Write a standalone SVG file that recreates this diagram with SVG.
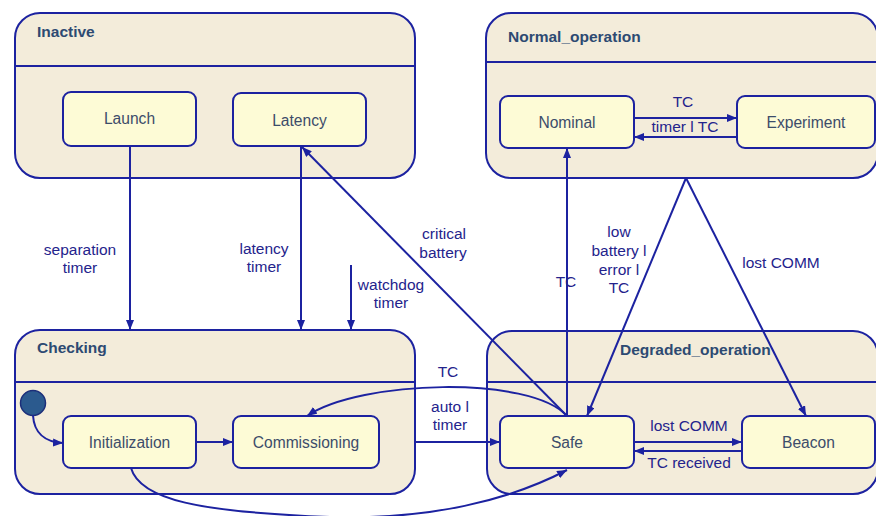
<svg xmlns="http://www.w3.org/2000/svg" width="876" height="516" viewBox="0 0 876 516">
  <defs>
    <marker id="arrow" viewBox="0 0 10 8" refX="10" refY="4" markerWidth="10" markerHeight="8" markerUnits="userSpaceOnUse" orient="auto">
      <path d="M0,0 L10,4 L0,8 z" fill="#1c22a0"/>
    </marker>
  </defs>
  <style>
    .composite { fill: #f3ecda; stroke: #1c22a0; stroke-width: 2; }
    .divider { stroke: #1c22a0; stroke-width: 2; }
    .state { fill: #fdfbd6; stroke: #1c22a0; stroke-width: 2; }
    .title { font-family: "Liberation Sans", Arial, sans-serif; font-size: 15.5px; font-weight: bold; fill: #2d4a72; }
    .name { font-family: "Liberation Sans", Arial, sans-serif; font-size: 15.6px; fill: #3c4c6a; text-anchor: middle; }
    .edge { fill: none; stroke: #1c22a0; stroke-width: 2; marker-end: url(#arrow); }
    .label { font-family: "Liberation Sans", Arial, sans-serif; font-size: 15.5px; fill: #24238c; text-anchor: middle; }
  </style>
  <rect width="876" height="516" fill="#ffffff"/>

  <!-- composite states -->
  <g id="inactive">
    <rect class="composite" x="15" y="13" width="400" height="165" rx="25"/>
    <line class="divider" x1="15" y1="66" x2="415" y2="66"/>
    <text class="title" x="37" y="37">Inactive</text>
  </g>
  <g id="normal_operation">
    <rect class="composite" x="486" y="13" width="392" height="165" rx="25"/>
    <line class="divider" x1="486" y1="62" x2="878" y2="62"/>
    <text class="title" x="508" y="42">Normal_operation</text>
  </g>
  <g id="checking">
    <rect class="composite" x="15" y="330" width="400" height="164" rx="25"/>
    <line class="divider" x1="15" y1="382" x2="415" y2="382"/>
    <text class="title" x="37" y="353">Checking</text>
  </g>
  <g id="degraded_operation">
    <rect class="composite" x="487" y="331" width="391" height="163" rx="25"/>
    <line class="divider" x1="487" y1="382" x2="878" y2="382"/>
    <text class="title" x="620" y="355">Degraded_operation</text>
  </g>

  <!-- simple states -->
  <g id="launch">
    <rect class="state" x="63" y="92" width="133" height="54" rx="8"/>
    <text class="name" x="129.5" y="124">Launch</text>
  </g>
  <g id="latency">
    <rect class="state" x="233" y="93" width="133" height="53" rx="8"/>
    <text class="name" x="299.5" y="126">Latency</text>
  </g>
  <g id="nominal">
    <rect class="state" x="500" y="96" width="134" height="52" rx="8"/>
    <text class="name" x="567" y="128">Nominal</text>
  </g>
  <g id="experiment">
    <rect class="state" x="737" y="96" width="138" height="52" rx="8"/>
    <text class="name" x="806" y="128">Experiment</text>
  </g>
  <g id="initial">
    <circle cx="33" cy="403" r="12.5" fill="#2b5a8e" stroke="#1c2f7a" stroke-width="1.5"/>
  </g>
  <g id="initialization">
    <rect class="state" x="63" y="416" width="133" height="52" rx="8"/>
    <text class="name" x="129.5" y="448">Initialization</text>
  </g>
  <g id="commissioning">
    <rect class="state" x="233" y="416" width="146" height="52" rx="8"/>
    <text class="name" x="306" y="448">Commissioning</text>
  </g>
  <g id="safe">
    <rect class="state" x="500" y="416" width="134" height="52" rx="8"/>
    <text class="name" x="567" y="448">Safe</text>
  </g>
  <g id="beacon">
    <rect class="state" x="742" y="416" width="133" height="52" rx="8"/>
    <text class="name" x="808.5" y="448">Beacon</text>
  </g>

  <!-- transitions -->
  <g id="connectors">
    <path class="edge" d="M130,146 V330"/>
    <path class="edge" d="M301,146 V330"/>
    <path class="edge" d="M351,265 V330"/>
    <path class="edge" d="M567,416 L302,147"/>
    <path class="edge" d="M567,416 V148"/>
    <path class="edge" d="M686,178 L587,416"/>
    <path class="edge" d="M686,178 L806,416"/>
    <path class="edge" d="M634,118 H737"/>
    <path class="edge" d="M737,137 H634"/>
    <path class="edge" d="M567,416 C530,375 360,380 307,416"/>
    <path class="edge" d="M415,442 H500"/>
    <path class="edge" d="M196,442 H233"/>
    <path class="edge" d="M33,415.5 C34,432 44,442 63,443"/>
    <path class="edge" d="M131,468 C140,500 200,512 330,517 C430,520 510,500 567,470"/>
    <path class="edge" d="M634,442 H742"/>
    <path class="edge" d="M742,451 H634"/>

    <text class="label" x="80" y="255">separation</text>
    <text class="label" x="80" y="273">timer</text>
    <text class="label" x="264" y="254">latency</text>
    <text class="label" x="264" y="272">timer</text>
    <text class="label" x="391" y="290">watchdog</text>
    <text class="label" x="391" y="308">timer</text>
    <text class="label" x="444" y="239">critical</text>
    <text class="label" x="443" y="258">battery</text>
    <text class="label" x="566" y="287">TC</text>
    <text class="label" x="619" y="237">low</text>
    <text class="label" x="619" y="256">battery l</text>
    <text class="label" x="619" y="275">error l</text>
    <text class="label" x="619" y="293">TC</text>
    <text class="label" x="781" y="268">lost COMM</text>
    <text class="label" x="683" y="107">TC</text>
    <text class="label" x="685" y="132">timer l TC</text>
    <text class="label" x="448" y="377">TC</text>
    <text class="label" x="450" y="412">auto l</text>
    <text class="label" x="450" y="430">timer</text>
    <text class="label" x="689" y="431">lost COMM</text>
    <text class="label" x="689" y="468">TC received</text>
  </g>
</svg>
